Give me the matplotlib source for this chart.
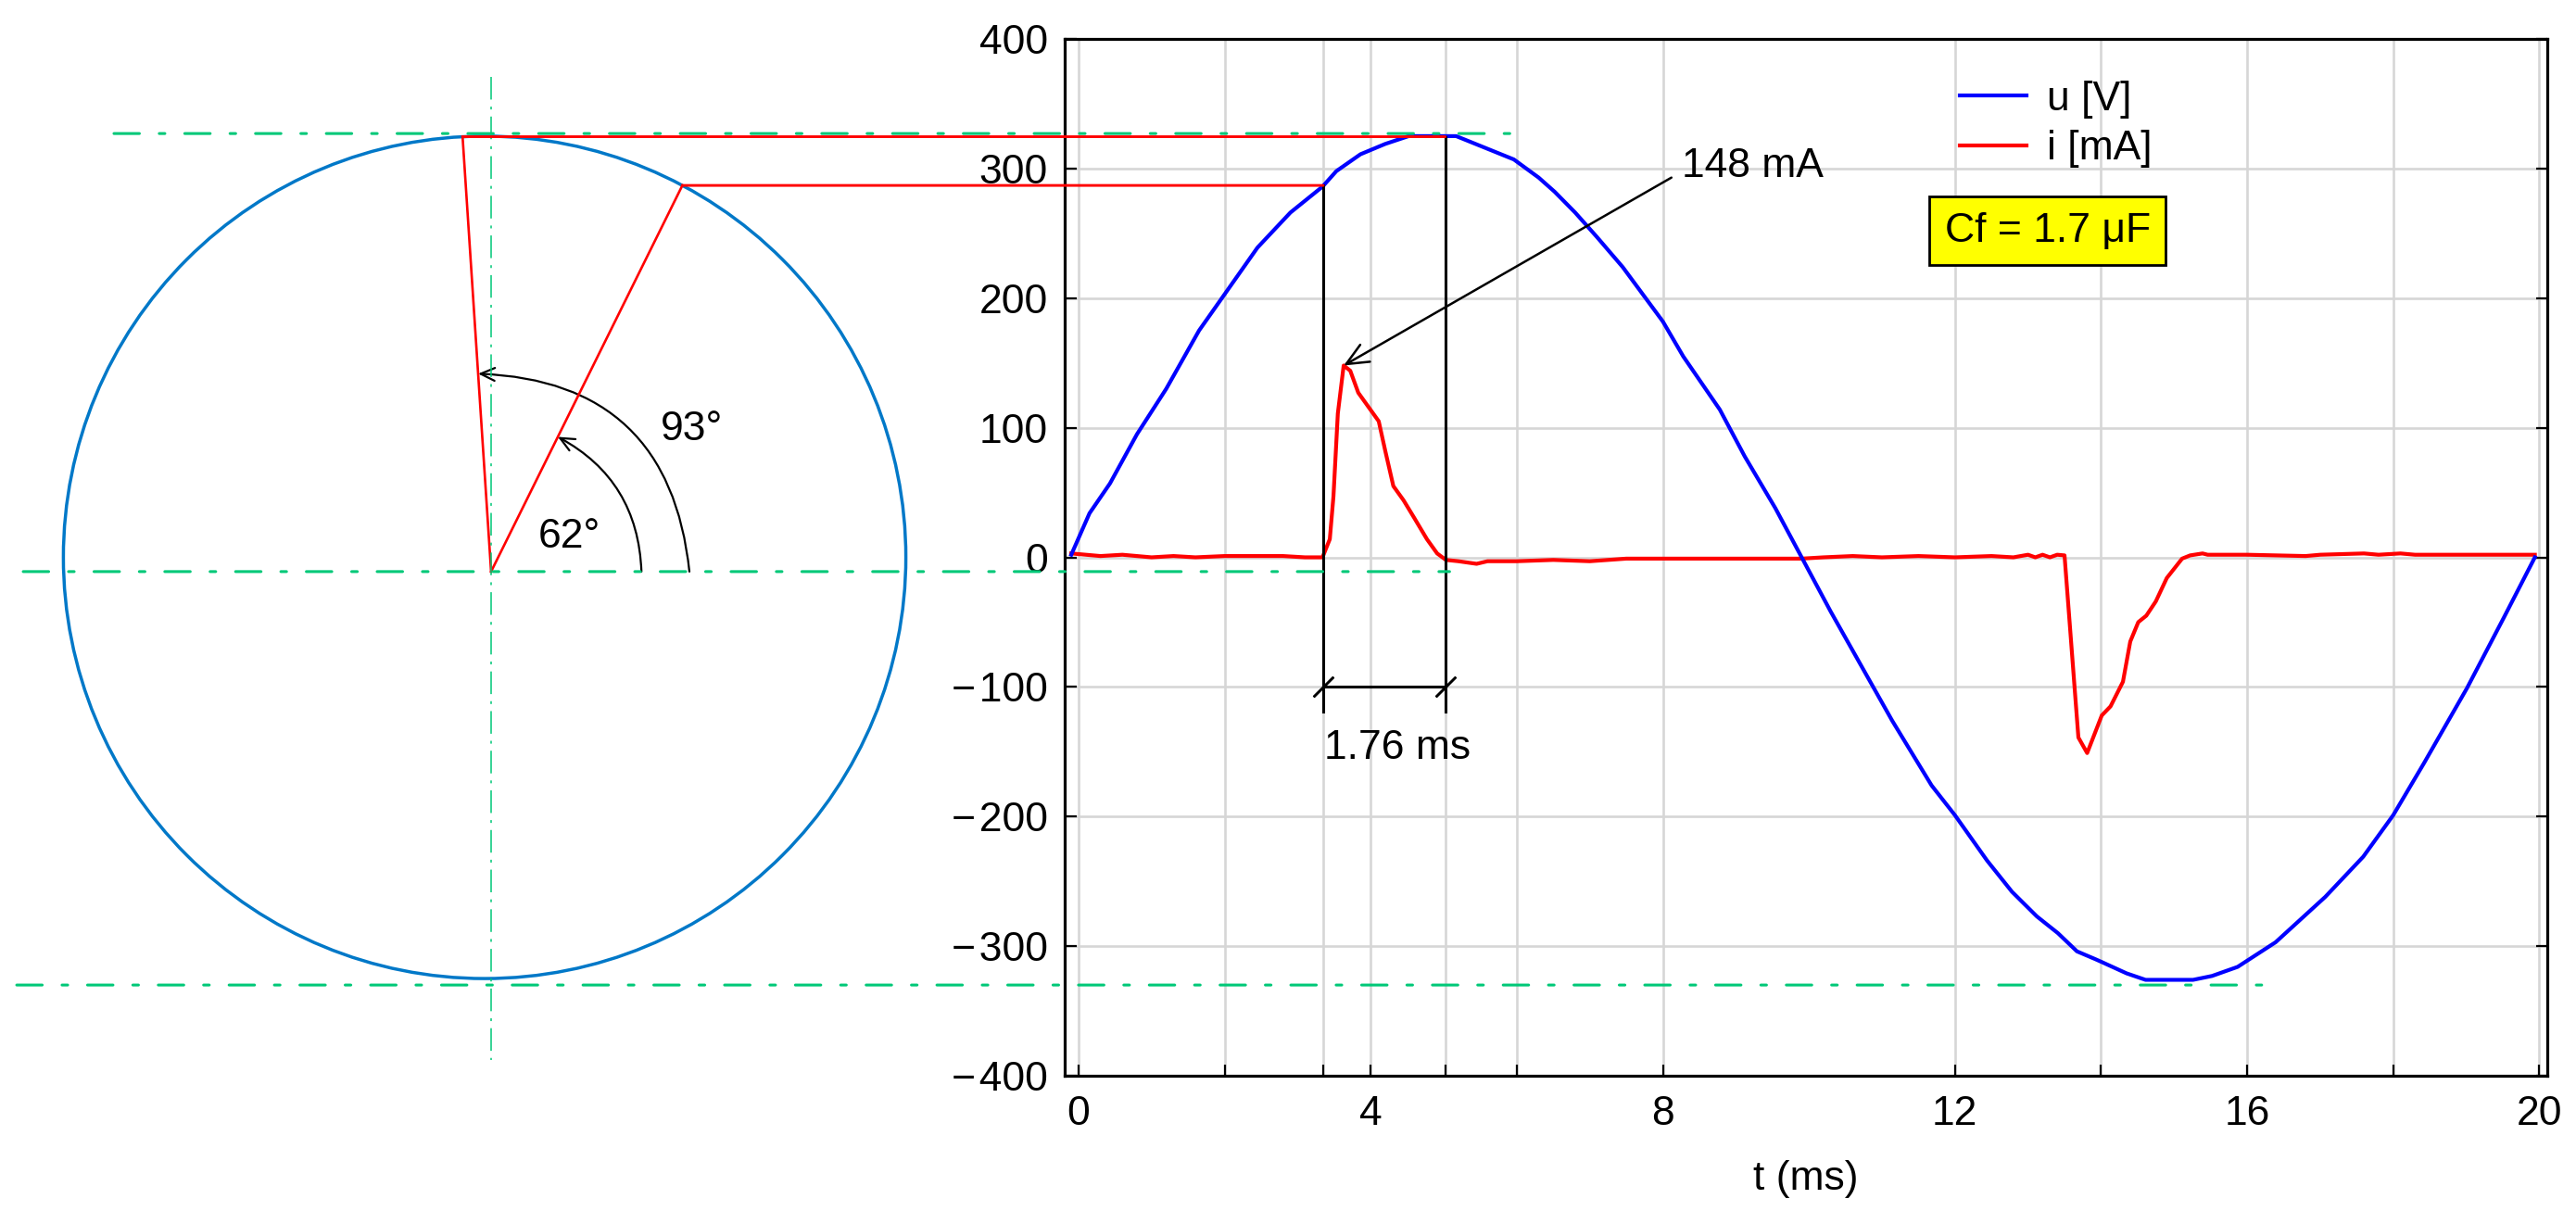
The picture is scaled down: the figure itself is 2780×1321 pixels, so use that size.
import numpy as np
import matplotlib
matplotlib.use('Agg')
import matplotlib.pyplot as plt
from matplotlib.patches import Circle, FancyArrowPatch, ConnectionPatch
from matplotlib.ticker import FixedLocator

plt.rcParams['font.family'] = ['Liberation Sans', 'DejaVu Sans']

# ---------------- data ----------------
t_u = [-0.1, 0.15, 0.43, 0.80, 1.20, 1.65, 2.05, 2.45, 2.90, 3.34, 3.53, 3.86, 4.20,
       4.52, 5.17, 5.39, 5.96, 6.30, 6.52, 6.80, 7.10, 7.45, 8.0, 8.28, 8.78,
       9.12, 9.54, 9.92, 10.3, 10.72, 11.14, 11.68, 12.0, 12.44, 12.78, 13.12, 13.41,
       13.67, 13.92, 14.0, 14.35, 14.61, 15.26, 15.52, 15.87, 16.39, 17.07, 17.59,
       18.0, 18.42, 19.01, 19.52, 19.94]
u_volt = [2, 34, 57, 95, 130, 175, 207, 239, 266, 286, 298, 311, 319,
          325, 325, 320, 307, 293, 282, 266, 247, 224, 182, 155, 114,
          78, 38, -2, -42, -84, -126, -176, -199, -234, -258, -277, -290,
          -304, -310, -312, -321, -326, -326, -323, -316, -297, -262, -231,
          -199, -159, -101, -46, 0]

t_i = [-0.1, 0.3, 0.6, 1.0, 1.3, 1.6, 2.0, 2.4, 2.8, 3.1, 3.34, 3.44, 3.49, 3.55,
       3.63, 3.72, 3.83, 3.97, 4.11, 4.20, 4.31, 4.45, 4.59, 4.77, 4.91, 5.03,
       5.2, 5.45, 5.6, 6.0, 6.5, 7.0, 7.5, 8.0, 9.0, 9.9, 10.2, 10.6, 11.0, 11.5,
       12.0, 12.5, 12.8, 13.0, 13.1, 13.2, 13.3, 13.4, 13.5, 13.69, 13.81, 14.01,
       14.13, 14.30, 14.40, 14.51, 14.62, 14.75, 14.90, 15.11, 15.22, 15.39, 15.46,
       16.0, 16.8, 17.0, 17.6, 17.8, 18.1, 18.3, 19.0, 19.94]
i_ma = [3, 1, 2, 0, 1, 0, 1, 1, 1, 0, 0, 14, 47, 111,
        148, 144, 127, 116, 105, 82, 55, 44, 31, 14, 3, -2,
        -3, -5, -3, -3, -2, -3, -1, -1, -1, -1, 0, 1, 0, 1,
        0, 1, 0, 2, 0, 2, 0, 2, 1.5, -139, -151, -122,
        -115, -96, -65, -50, -45, -34, -16, -1, 1.5, 3, 2,
        2, 1, 2, 3, 2, 3, 2, 2, 2]

v_peak = 325
angle_a_deg = 62
angle_b_deg = 93
t_a = 3.35
t_b = 5.02
duration_label = '1.76 ms'
peak_label = '148 mA'
cap_label = 'Cf = 1.7 \u03bcF'
legend_labels = ['u [V]', 'i [mA]']
x_major = [0, 4, 8, 12, 16, 20]
x_minor = [2, t_a, t_b, 6, 14, 18]
y_ticks = [-400, -300, -200, -100, 0, 100, 200, 300, 400]
y_labels = [('\u2212\u200a' + str(abs(v))) if v < 0 else str(v) for v in y_ticks]

# ---------------- layout ----------------
W, H, DPI = 2780, 1321, 100
FS = 32
fig = plt.figure(figsize=(W / DPI, H / DPI), dpi=DPI)
fig.patch.set_facecolor('white')

L_PX, R_PX, T_PX, B_PX = 1149, 2749, 42, 1161
ax = fig.add_axes([L_PX / W, 1 - B_PX / H, (R_PX - L_PX) / W, (B_PX - T_PX) / H])
ax.set_xlim(-0.19, 20.11)
ax.set_ylim(-400, 400)

# left phasor axes with same vertical scale
ppu = (B_PX - T_PX) / 800.0
CX_PX = 523
axc = fig.add_axes([0, 1 - B_PX / H, L_PX / W, (B_PX - T_PX) / H])
axc.set_xlim(-CX_PX / ppu, (L_PX - CX_PX) / ppu)
axc.set_ylim(-400, 400)
axc.axis('off')

GREEN = '#00C878'
BLUE_C = '#0078C8'

# ---------------- main plot ----------------
ax.xaxis.set_major_locator(FixedLocator(x_major))
ax.xaxis.set_minor_locator(FixedLocator(x_minor))
ax.set_xticklabels([str(v) for v in x_major])
ax.set_yticks(y_ticks)
ax.set_yticklabels(y_labels)
ax.grid(True, which='both', color='#D6D6D6', lw=1.9, zorder=0)
ax.set_axisbelow(True)
ax.tick_params(axis='both', which='both', direction='in', length=9, width=1.6,
               labelsize=FS, colors='black')
ax.tick_params(axis='y', right=True, pad=13)
ax.tick_params(axis='x', pad=15)
for s in ax.spines.values():
    s.set_linewidth(2.3)
    s.set_color('black')
ax.set_xlabel('t (ms)', fontsize=FS, labelpad=21)

l_u, = ax.plot(t_u, u_volt, color='#0000FF', lw=3.0, zorder=4, label=legend_labels[0])
l_i, = ax.plot(t_i, i_ma, color='#FF0000', lw=3.0, zorder=3, label=legend_labels[1])

ax.legend(handles=[l_u, l_i], loc='upper left', bbox_to_anchor=(0.604, 0.96),
          frameon=False, fontsize=FS, handlelength=1.62, handletextpad=0.48,
          borderpad=0, borderaxespad=0, labelspacing=0.28)

ax.text(13.27, 252, cap_label, ha='center', va='center', fontsize=FS, zorder=6,
        bbox=dict(boxstyle='square,pad=0.37', fc='#FFFF00', ec='black', lw=2.0))

# peak annotation
k = int(np.argmax(i_ma))
ax.annotate(peak_label, xy=(t_i[k], i_ma[k]), xytext=(8.26, 302), ha='left', va='center',
            fontsize=FS, zorder=6,
            arrowprops=dict(arrowstyle='->,head_length=0.85,head_width=0.38', mutation_scale=20,
                            color='black', lw=1.8, shrinkA=7, shrinkB=0, relpos=(0, 0.35)))

# phasor geometry
ox, oy = 5.0, -11.0
a_rad = np.deg2rad(angle_a_deg)
b_rad = np.deg2rad(angle_b_deg)
tip_a = (v_peak * np.cos(a_rad), v_peak * np.sin(a_rad))
tip_b = (v_peak * np.cos(b_rad), v_peak * np.sin(b_rad))

# black marker lines and dimension
dim_y, dim_bottom = -100, -119
ax.plot([t_a, t_a], [dim_bottom, tip_a[1]], color='black', lw=2.2, zorder=5)
ax.plot([t_b, t_b], [dim_bottom, tip_b[1]], color='black', lw=2.2, zorder=5)
ax.plot([t_a, t_b], [dim_y, dim_y], color='black', lw=2.2, zorder=5)
ax.plot([t_a, t_b], [dim_y, dim_y], ls='none', marker=(2, 2, -45), markersize=22,
        markeredgewidth=1.8, color='black', zorder=5)
ax.text(4.37, -147, duration_label, ha='center', va='center', fontsize=FS, zorder=6)

# ---------------- phasor diagram ----------------
axc.add_patch(Circle((0, 0), v_peak, fill=False, ec=BLUE_C, lw=2.5))
axc.plot([ox, tip_a[0]], [oy, tip_a[1]], color='#FF0000', lw=1.9)
axc.plot([ox, tip_b[0]], [oy, tip_b[1]], color='#FF0000', lw=1.9)
axc.plot([ox, ox], [371, -388], color=GREEN, lw=1.1, ls=(0, (16, 5, 2, 5)))

def arc_arrow(r, tip):
    ang = np.arctan2(tip[1] - oy, tip[0] - ox)
    p0 = (ox + r, oy)
    p1 = (ox + r * np.cos(ang), oy + r * np.sin(ang))
    arr = FancyArrowPatch(p0, p1, connectionstyle='arc3,rad=%.4f' % np.tan(ang / 4),
                          arrowstyle='->,head_length=0.55,head_width=0.25', mutation_scale=20,
                          color='black', lw=1.6, shrinkA=0, shrinkB=0)
    axc.add_patch(arr)

arc_arrow(116, tip_a)
arc_arrow(153, tip_b)
axc.text(65, 16, '%d\u00b0' % angle_a_deg, ha='center', va='center', fontsize=FS)
axc.text(160, 99, '%d\u00b0' % angle_b_deg, ha='center', va='center', fontsize=FS)

# projection lines (red) from phasor tips to the time axis
for tip, tm in ((tip_a, t_a), (tip_b, t_b)):
    cp = ConnectionPatch(xyA=tip, coordsA=axc.transData, xyB=(tm, tip[1]), coordsB=ax.transData,
                         color='#FF0000', lw=2.1, zorder=5)
    fig.add_artist(cp)

# green construction lines
for y, x0, t1 in ((327, -286, 6.13), (oy, -356, 5.08), (-330, -361, 16.2)):
    cp = ConnectionPatch(xyA=(x0, y), coordsA=axc.transData, xyB=(t1, y), coordsB=ax.transData,
                         color=GREEN, lw=2.2, ls=(0, (9, 7, 2, 7)), zorder=4)
    fig.add_artist(cp)

fig.savefig('out.png', dpi=DPI, facecolor='white')
